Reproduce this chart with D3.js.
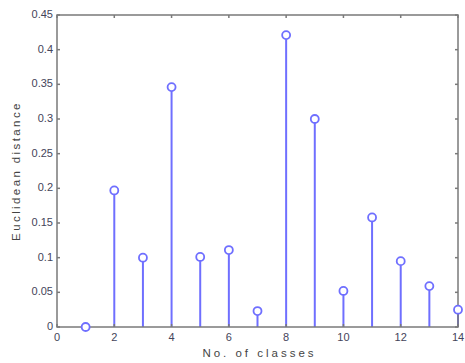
<!DOCTYPE html>
<html>
<head>
<meta charset="utf-8">
<script src="https://cdn.jsdelivr.net/npm/d3@7"></script>
<style>
  body { margin: 0; background: #fff; }
  text { font-family: "Liberation Sans", Arial, sans-serif; }
</style>
</head>
<body>
<div id="container"></div>
<script>
// number of classes and the distance for each
let classes = [1, 2, 3, 4, 5, 6, 7, 8, 9, 10, 11, 12, 13, 14];
let distances = [0, 0.197, 0.1, 0.346, 0.101, 0.111, 0.023, 0.421, 0.3, 0.052, 0.158, 0.095, 0.059, 0.025];
let xTicks = [0, 2, 4, 6, 8, 10, 12, 14];
let yTicks = [0, 0.05, 0.1, 0.15, 0.2, 0.25, 0.3, 0.35, 0.4, 0.45];

let width = 465, height = 363;
let margin = {left: 57, right: 7, top: 15, bottom: 36};

let svg = d3.select("#container")
    .append("svg")
    .attr("width", width)
    .attr("height", height);

let x = d3.scaleLinear().domain([0, 14]).range([margin.left, width - margin.right]);
let y = d3.scaleLinear().domain([0, 0.45]).range([height - margin.bottom, margin.top]);

let axisColor = "#7a7a7a";
let stemColor = "#6f6fff";

// stems
svg.append("g")
    .selectAll("line")
    .data(classes)
    .enter()
    .append("line")
    .attr("x1", d => x(d))
    .attr("x2", d => x(d))
    .attr("y1", y(0))
    .attr("y2", (d, i) => y(distances[i]))
    .attr("stroke", stemColor)
    .attr("stroke-width", 2);

// frame
let frame = svg.append("g");
frame.append("rect")
    .attr("x", x(0))
    .attr("y", y(0.45))
    .attr("width", x(14) - x(0))
    .attr("height", y(0) - y(0.45))
    .attr("fill", "none")
    .attr("stroke", axisColor)
    .attr("stroke-width", 1.5);

// ticks pointing inward on all four sides
let tickLen = 3;
frame.selectAll(".yl").data(yTicks).enter().append("line")
    .attr("x1", x(0)).attr("x2", x(0) + tickLen)
    .attr("y1", d => y(d)).attr("y2", d => y(d))
    .attr("stroke", axisColor).attr("stroke-width", 1.5);
frame.selectAll(".yr").data(yTicks).enter().append("line")
    .attr("x1", x(14)).attr("x2", x(14) - tickLen)
    .attr("y1", d => y(d)).attr("y2", d => y(d))
    .attr("stroke", axisColor).attr("stroke-width", 1.5);
frame.selectAll(".xt").data(xTicks).enter().append("line")
    .attr("x1", d => x(d)).attr("x2", d => x(d))
    .attr("y1", y(0.45)).attr("y2", y(0.45) + tickLen)
    .attr("stroke", axisColor).attr("stroke-width", 1.5);
frame.selectAll(".xb").data(xTicks).enter().append("line")
    .attr("x1", d => x(d)).attr("x2", d => x(d))
    .attr("y1", y(0)).attr("y2", y(0) - tickLen)
    .attr("stroke", axisColor).attr("stroke-width", 1.5);

// markers
svg.append("g")
    .selectAll("circle")
    .data(classes)
    .enter()
    .append("circle")
    .attr("cx", d => x(d))
    .attr("cy", (d, i) => y(distances[i]))
    .attr("r", 4)
    .attr("fill", "#fff")
    .attr("stroke", stemColor)
    .attr("stroke-width", 1.8);

// tick labels
svg.append("g")
    .selectAll("text")
    .data(yTicks)
    .enter()
    .append("text")
    .attr("x", x(0) - 4)
    .attr("y", d => y(d))
    .attr("text-anchor", "end")
    .attr("dominant-baseline", "middle")
    .attr("style", "font-size:11px; fill:#44445a")
    .text(d => +d.toFixed(2));

svg.append("g")
    .selectAll("text")
    .data(xTicks)
    .enter()
    .append("text")
    .attr("x", d => x(d))
    .attr("y", y(0) + 14)
    .attr("text-anchor", "middle")
    .attr("style", "font-size:11px; fill:#44445a")
    .text(d => d);

// axis titles
svg.append("text")
    .attr("x", (x(0) + x(14)) / 2 + 2)
    .attr("y", height - 6)
    .attr("text-anchor", "middle")
    .attr("style", "font-size:11.5px; letter-spacing:3px; fill:#444")
    .text("No. of classes");

svg.append("text")
    .attr("transform", "translate(20," + ((y(0) + y(0.45)) / 2) + ") rotate(-90)")
    .attr("text-anchor", "middle")
    .attr("style", "font-size:11.5px; letter-spacing:2.4px; fill:#444")
    .text("Euclidean distance");
</script>
</body>
</html>
